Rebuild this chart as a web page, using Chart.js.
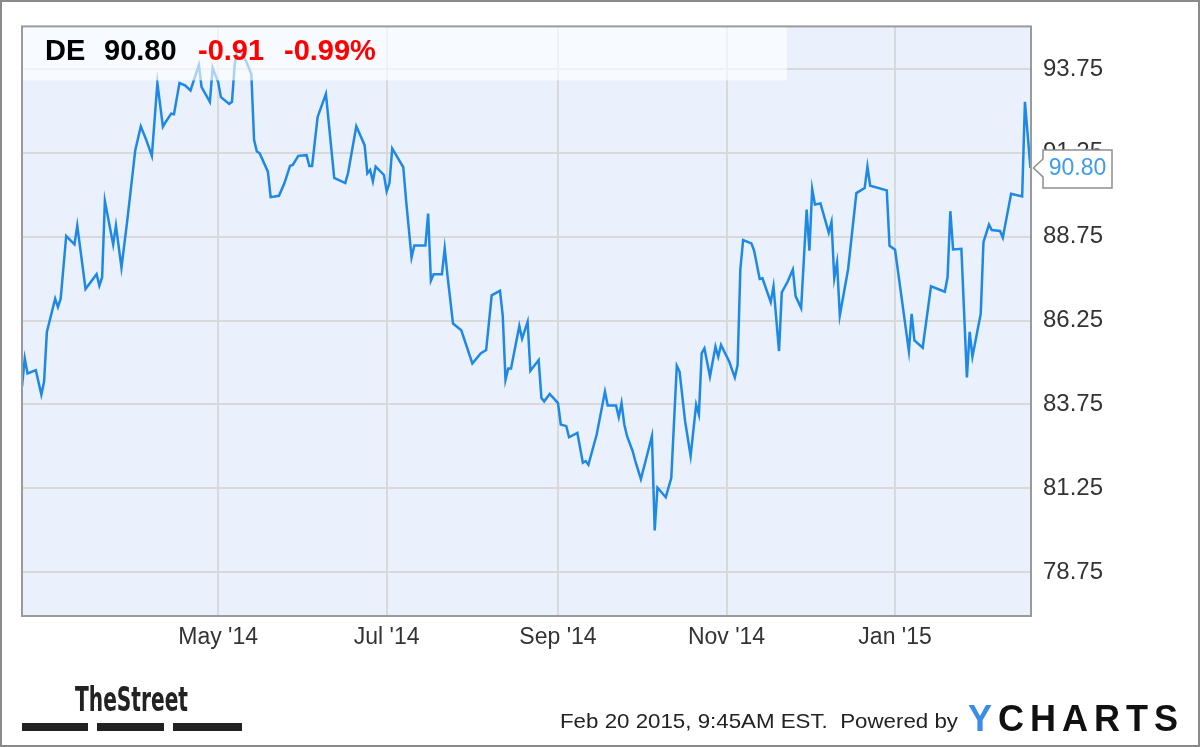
<!DOCTYPE html>
<html>
<head>
<meta charset="utf-8">
<script src="https://cdn.jsdelivr.net/npm/chart.js@4"></script>
<style>
html, body { margin: 0; padding: 0; background: #fff; }
#wrap { position: relative; width: 1200px; height: 747px; }
</style>
</head>
<body>
<div id="wrap"><canvas id="deChart" width="1200" height="747"></canvas></div>
<script>
// days since 20 Feb 2014
const dayIndex = [
    -1, 0, 1, 4, 6, 7, 8, 11, 12, 13,
    15, 18, 19, 22, 26, 27, 28, 29, 32, 33,
    35, 37, 40, 42, 44, 46, 48, 50, 51, 53,
    54, 56, 58, 60, 63, 64, 67, 68, 70, 71,
    74, 75, 76, 77, 80, 82, 83, 84, 85, 88,
    89, 92, 94, 96, 97, 99, 102, 103, 104, 106,
    109, 112, 116, 117, 120, 123, 124, 125, 126, 127,
    130, 131, 132, 133, 137, 138, 140, 141, 145, 146,
    147, 148, 151, 152, 153, 155, 158, 162, 165, 167,
    169, 172, 173, 174, 175, 176, 179, 180, 182, 183,
    186, 187, 188, 190, 193, 194, 196, 197, 200, 202,
    203, 204, 207, 210, 211, 214, 215, 216, 217, 218,
    220, 221, 223, 225, 227, 228, 229, 232, 234, 236,
    237, 239, 241, 243, 244, 245, 246, 248, 250, 251,
    252, 255, 257, 258, 259, 260, 263, 264, 266, 267,
    270, 271, 273, 274, 276, 278, 279, 281, 283, 284,
    285, 286, 288, 291, 292, 293, 294, 295, 298, 301,
    304, 305, 306, 312, 313, 315, 320, 321, 322, 325,
    328, 333, 334, 335, 336, 339, 341, 342, 343, 346,
    347, 349, 350, 353, 354, 357, 361, 362, 364
];

const closePrices = [
    84.28, 85.12, 84.67, 84.77, 84.04, 84.43, 85.91, 86.90, 86.65, 86.90,
    88.77, 88.52, 89.08, 87.19, 87.63, 87.29, 87.54, 89.81, 88.52, 89.08,
    87.83, 89.16, 91.33, 92.04, 91.63, 91.16, 93.33, 92.03, 92.17, 92.42,
    92.40, 93.33, 93.26, 93.11, 93.87, 93.21, 92.77, 93.78, 93.36, 92.91,
    92.71, 92.77, 93.90, 94.39, 94.00, 93.60, 91.63, 91.29, 91.24, 90.69,
    89.93, 89.97, 90.35, 90.86, 90.89, 91.16, 91.18, 90.86, 90.86, 92.32,
    93.01, 90.50, 90.35, 90.64, 92.04, 91.48, 90.64, 90.74, 90.40, 90.84,
    90.59, 90.10, 90.35, 91.38, 90.82, 89.85, 88.13, 88.49, 88.49, 89.44,
    87.44, 87.63, 87.63, 88.40, 87.59, 86.16, 85.96, 84.97, 85.27, 85.37,
    87.00, 87.14, 86.40, 84.48, 84.82, 84.82, 86.09, 85.71, 86.21, 84.75,
    85.07, 83.94, 83.84, 84.06, 83.79, 83.15, 83.10, 82.77, 82.90, 82.01,
    82.06, 81.95, 82.85, 84.13, 83.72, 83.72, 83.37, 83.79, 83.15, 82.80,
    82.36, 82.06, 81.52, 82.16, 82.80, 79.99, 81.27, 80.98, 81.55, 84.90,
    84.73, 83.25, 82.21, 83.74, 83.45, 85.27, 85.42, 84.58, 85.47, 85.17,
    85.52, 85.02, 84.55, 84.92, 87.78, 88.65, 88.55, 88.33, 87.49, 87.51,
    86.80, 87.27, 85.34, 87.09, 87.39, 87.77, 86.98, 86.62, 89.56, 88.33,
    90.17, 89.71, 89.74, 88.87, 89.19, 87.51, 87.98, 86.40, 87.78, 90.05,
    90.20, 90.84, 90.27, 90.13, 88.48, 88.36, 85.34, 86.45, 85.66, 85.44,
    87.27, 87.11, 87.54, 89.51, 88.37, 88.39, 84.55, 85.91, 85.17, 86.45,
    88.59, 89.11, 88.95, 88.92, 88.72, 90.03, 89.95, 92.77, 90.80
];

const yTicks = [78.75, 81.25, 83.75, 86.25, 88.75, 91.25, 93.75];
const monthDays = [70, 131, 193, 254, 315];
const monthLabels = ["May '14", "Jul '14", "Sep '14", "Nov '14", "Jan '15"];

const ticker = 'DE';
const lastPrice = '90.80';
const change = '-0.91';
const changePct = '-0.99%';
const stamp = 'Feb 20 2015, 9:45AM EST.  Powered by';

const FONT = '"Liberation Sans", Arial, sans-serif';

const chartDecor = {
    id: 'chartDecor',
    beforeDraw(chart) {
        const { ctx, chartArea: a } = chart;
        ctx.save();
        ctx.fillStyle = '#fff';
        ctx.fillRect(0, 0, chart.width, chart.height);
        ctx.fillStyle = '#eaf1fc';
        ctx.fillRect(a.left, a.top, a.right - a.left, a.bottom - a.top);
        ctx.restore();
    },
    afterDatasetsDraw(chart) {
        const { ctx, chartArea: a } = chart;
        ctx.save();
        // header strip over the plot
        ctx.fillStyle = 'rgba(255,255,255,0.62)';
        ctx.fillRect(a.left, a.top, 765, 54);
        ctx.font = 'bold 29px ' + FONT;
        ctx.textBaseline = 'alphabetic';
        ctx.fillStyle = '#000';
        ctx.fillText(ticker, 45, 60);
        ctx.fillText(lastPrice, 104, 60);
        ctx.fillStyle = '#ff0000';
        ctx.fillText(change, 198, 60);
        ctx.fillText(changePct, 284, 60);
        // plot frame
        ctx.strokeStyle = '#9a9a9a';
        ctx.lineWidth = 2;
        ctx.strokeRect(a.left, a.top, a.right - a.left, a.bottom - a.top);
        ctx.restore();
    },
    afterDraw(chart) {
        const { ctx, chartArea: a } = chart;
        const xs = chart.scales.x, ys = chart.scales.y;
        const n = dayIndex.length - 1;
        const px = xs.getPixelForValue(dayIndex[n]);
        const py = ys.getPixelForValue(closePrices[n]);
        ctx.save();

        // last price callout
        const bx = a.right + 12, bw = 69, bh = 38, by = py - 18;
        ctx.beginPath();
        ctx.moveTo(bx, by);
        ctx.lineTo(bx + bw, by);
        ctx.lineTo(bx + bw, by + bh);
        ctx.lineTo(bx, by + bh);
        ctx.lineTo(bx, py + 9);
        ctx.lineTo(px + 3, py);
        ctx.lineTo(bx, py - 9);
        ctx.closePath();
        ctx.fillStyle = '#fff';
        ctx.fill();
        ctx.strokeStyle = '#8f8f8f';
        ctx.lineWidth = 1.5;
        ctx.stroke();
        ctx.fillStyle = '#3f9cec';
        ctx.font = '23px ' + FONT;
        ctx.textAlign = 'center';
        ctx.textBaseline = 'middle';
        ctx.fillText(lastPrice, bx + bw / 2, py + 1);

        // TheStreet logo
        ctx.textAlign = 'left';
        ctx.textBaseline = 'alphabetic';
        ctx.fillStyle = '#222';
        ctx.font = 'bold 34px "Liberation Sans Narrow", "DejaVu Sans Condensed", ' + FONT;
        let w = ctx.measureText('TheStreet').width;
        ctx.save();
        ctx.translate(75, 711);
        ctx.scale(113 / w, 1);
        ctx.fillText('TheStreet', 0, 0);
        ctx.restore();
        ctx.fillRect(22, 723, 66, 8);
        ctx.fillRect(97, 723, 67, 8);
        ctx.fillRect(173, 723, 69, 8);

        // footer stamp
        ctx.font = '21px ' + FONT;
        ctx.fillStyle = '#222';
        w = ctx.measureText(stamp).width;
        ctx.save();
        ctx.translate(560, 728);
        ctx.scale(398 / w, 1);
        ctx.fillText(stamp, 0, 0);
        ctx.restore();

        // YCHARTS mark
        ctx.font = 'bold 36px ' + FONT;
        const letters = 'YCHARTS'.split('');
        let lx = 968;
        letters.forEach((ch, i) => {
            ctx.fillStyle = i === 0 ? '#3b8ee8' : '#111';
            ctx.fillText(ch, lx, 731);
            lx += ctx.measureText(ch).width + 6;
        });

        // outer frame
        ctx.strokeStyle = '#8a8a8a';
        ctx.lineWidth = 2;
        ctx.strokeRect(1, 1, chart.width - 2, chart.height - 2);
        ctx.restore();
    }
};

new Chart(document.getElementById('deChart'), {
    type: 'line',
    data: {
        datasets: [{
            label: ticker,
            data: dayIndex.map((d, i) => ({ x: d, y: closePrices[i] })),
            borderColor: '#1e88e5',
            borderWidth: 2.5,
            pointRadius: 0,
            tension: 0,
            fill: false
        }]
    },
    options: {
        responsive: false,
        animation: false,
        devicePixelRatio: 1,
        layout: { padding: { left: 22, top: 22, right: 0, bottom: 0 } },
        plugins: {
            legend: { display: false },
            tooltip: { enabled: false }
        },
        scales: {
            x: {
                type: 'linear',
                min: -1,
                max: 364.2,
                afterBuildTicks: s => { s.ticks = monthDays.map(v => ({ value: v })); },
                afterFit: s => { s.height = 131; },
                ticks: {
                    callback: (v, i) => monthLabels[i],
                    autoSkip: false,
                    maxRotation: 0,
                    padding: 8,
                    color: '#333',
                    font: { family: FONT, size: 23 }
                },
                grid: { color: '#d9d9d9', lineWidth: 2, drawTicks: false },
                border: { display: false }
            },
            y: {
                position: 'right',
                min: 77.44,
                max: 95.02,
                afterBuildTicks: s => { s.ticks = yTicks.map(v => ({ value: v })); },
                afterFit: s => { s.width = 169; },
                ticks: {
                    callback: v => v.toFixed(2),
                    padding: 12,
                    color: '#333',
                    font: { family: FONT, size: 24 }
                },
                grid: { color: '#d9d9d9', lineWidth: 2, drawTicks: false },
                border: { display: false }
            }
        }
    },
    plugins: [chartDecor]
});
</script>
</body>
</html>
